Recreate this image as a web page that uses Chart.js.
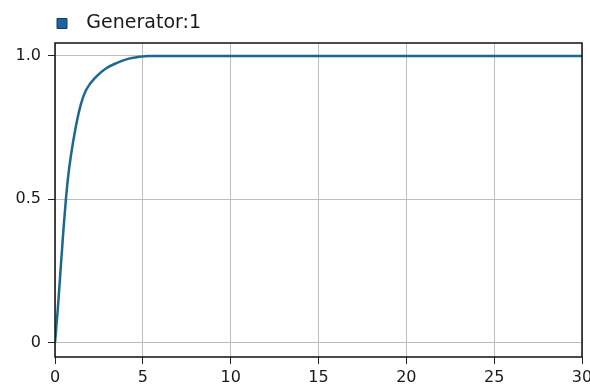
<!DOCTYPE html>
<html>
<head>
<meta charset="utf-8">
<script src="https://cdn.jsdelivr.net/npm/chart.js@4/dist/chart.umd.min.js"></script>
<style>
  body { margin: 0; background: #fff; }
</style>
</head>
<body>
<canvas id="chart" width="590" height="390"></canvas>
<script>
// values
const seriesName = 'Generator:1';
const times = [0, 0.15, 0.33, 0.5, 0.62, 0.75, 0.9, 1.19, 1.48, 1.77, 2.35, 2.92, 3.5, 4.07, 4.84, 5.3, 10, 15, 20, 25, 30];
const values = [0, 0.11, 0.265, 0.41, 0.5, 0.58, 0.65, 0.755, 0.833, 0.881, 0.928, 0.957, 0.975, 0.988, 0.997, 1, 1, 1, 1, 1, 1];

const xTicks = [0, 5, 10, 15, 20, 25, 30];
const xTickLabels = ['0', '5', '10', '15', '20', '25', '30'];
const yTicks = [0, 0.5, 1.0];
const yTickLabels = ['0', '0.5', '1.0'];

const font = { family: 'DejaVu Sans', size: 16 };

// black frame round the plot area
const frame = {
  id: 'frame',
  afterDraw(chart) {
    const { ctx, chartArea: a } = chart;
    ctx.save();
    ctx.strokeStyle = '#111';
    ctx.lineWidth = 1.5;
    ctx.strokeRect(a.left, a.top, a.right - a.left, a.bottom - a.top);
    ctx.restore();
  }
};

new Chart(document.getElementById('chart'), {
  type: 'line',
  data: {
    datasets: [{
      label: seriesName,
      data: times.map((t, i) => ({ x: t, y: values[i] })),
      borderColor: '#1b6892',
      backgroundColor: '#1a62a0',
      borderWidth: 2.5,
      pointRadius: 0,
      cubicInterpolationMode: 'monotone',
      fill: false
    }]
  },
  options: {
    responsive: false,
    animation: false,
    layout: { padding: { top: 7, right: 8, left: 0, bottom: 0 } },
    plugins: {
      tooltip: { enabled: false },
      legend: {
        position: 'top',
        align: 'start',
        fullSize: false,
        labels: {
          boxWidth: 10,
          boxHeight: 10,
          padding: 2,
          color: '#1a1a1a',
          font: { family: 'DejaVu Sans', size: 19 },
          generateLabels(chart) {
            const items = Chart.defaults.plugins.legend.labels.generateLabels(chart);
            items.forEach(it => {
              it.text = ' \u2009' + it.text;
              it.strokeStyle = '#123c5e';
              it.lineWidth = 1;
            });
            return items;
          }
        }
      }
    },
    scales: {
      x: {
        type: 'linear',
        min: 0,
        max: 30,
        afterBuildTicks(scale) { scale.ticks = xTicks.map(v => ({ value: v })); },
        afterFit(scale) { scale.height = 33; scale.paddingLeft = 0; scale.paddingRight = 0; },
        border: { display: false },
        grid: { color: '#bdbdbd', lineWidth: 1, tickColor: '#222', tickLength: 7 },
        ticks: {
          padding: 4,
          color: '#1a1a1a',
          font,
          maxRotation: 0,
          callback: (v) => xTickLabels[xTicks.indexOf(v)]
        }
      },
      y: {
        min: -0.05,
        max: 1.045,
        afterBuildTicks(scale) { scale.ticks = yTicks.map(v => ({ value: v })); },
        afterFit(scale) { scale.width = 55; scale.paddingTop = 43; scale.paddingBottom = 0; },
        border: { display: false },
        grid: { color: '#bdbdbd', lineWidth: 1, tickColor: '#222', tickLength: 7 },
        ticks: {
          padding: 7,
          color: '#1a1a1a',
          font,
          callback: (v) => yTickLabels[yTicks.indexOf(v)]
        }
      }
    }
  },
  plugins: [frame]
});
</script>
</body>
</html>
